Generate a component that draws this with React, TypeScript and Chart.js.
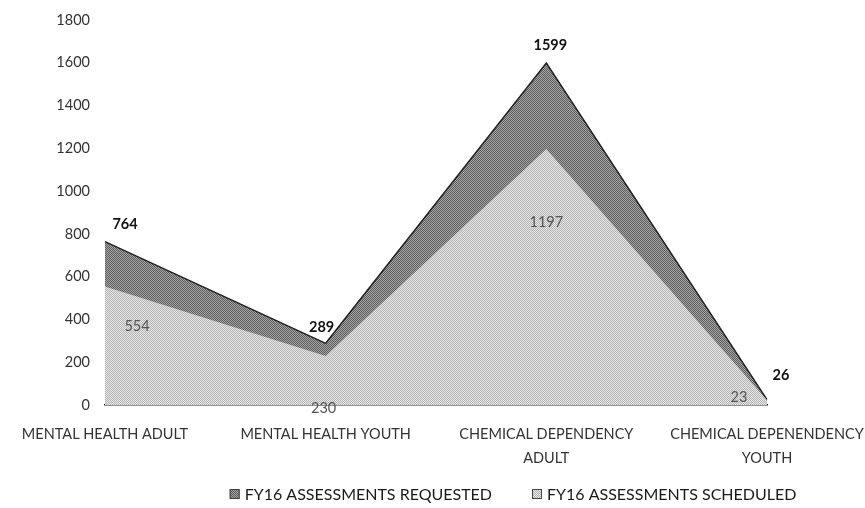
import React, { useEffect, useRef } from "react";
import { Chart, registerables } from "chart.js";

Chart.register(...registerables);

const categories: string[][] = [
  ["MENTAL HEALTH ADULT"],
  ["MENTAL HEALTH YOUTH"],
  ["CHEMICAL DEPENDENCY", "ADULT"],
  ["CHEMICAL DEPENENDENCY", "YOUTH"],
];
const requested = [764, 289, 1599, 26];
const scheduled = [554, 230, 1197, 23];
const seriesNames = ["FY16 ASSESSMENTS REQUESTED", "FY16 ASSESSMENTS SCHEDULED"];
const yMax = 1800;
const yStep = 200;

const FONT = "Lato, 'Open Sans', sans-serif";

function makePattern(a: string, b: string): CanvasPattern | string {
  const c = document.createElement("canvas");
  c.width = 4;
  c.height = 4;
  const g = c.getContext("2d");
  if (!g) return a;
  for (let y = 0; y < 4; y++) {
    for (let x = 0; x < 4; x++) {
      g.fillStyle = (x + y) % 2 === 0 ? a : b;
      g.fillRect(x, y, 1, 1);
    }
  }
  const p = g.createPattern(c, "repeat");
  return p || a;
}

const labelOffsets = [
  [[20, -17], [-4, -16], [4, -18], [14, -24]],
  [[32, 40], [-2, 52], [0, 73], [-28, -3]],
];

const dataLabelPlugin = {
  id: "dataLabels",
  afterDatasetsDraw(chart: any) {
    const ctx = chart.ctx;
    ctx.save();
    ctx.textAlign = "center";
    ctx.textBaseline = "middle";
    chart.data.datasets.forEach((ds: any, di: number) => {
      const meta = chart.getDatasetMeta(di);
      meta.data.forEach((pt: any, i: number) => {
        const off = labelOffsets[di][i];
        ctx.font = di === 0 ? `bold 14.5px ${FONT}` : `14.5px ${FONT}`;
        ctx.fillStyle = di === 0 ? "#111" : "#555";
        ctx.fillText(String(ds.data[i]), pt.x + off[0], pt.y + off[1]);
      });
    });
    ctx.restore();
  },
};

const legendPlugin = {
  id: "customLegend",
  afterDraw(chart: any) {
    const ctx = chart.ctx;
    const ds = chart.data.datasets;
    ctx.save();
    ctx.font = `16px ${FONT}`;
    ctx.textBaseline = "middle";
    ctx.textAlign = "left";
    const box = 10;
    const gap = 5;
    const spacing = 40;
    const widths = ds.map((d: any) => box + gap + ctx.measureText(d.label).width);
    const total = widths.reduce((a: number, b: number) => a + b, 0) + spacing * (ds.length - 1);
    const center = 513;
    const y = 494;
    let x = center - total / 2;
    ds.forEach((d: any, i: number) => {
      ctx.fillStyle = d.backgroundColor;
      ctx.fillRect(x, y - box / 2, box, box);
      ctx.strokeStyle = "#444";
      ctx.lineWidth = 1;
      ctx.strokeRect(x + 0.5, y - box / 2 + 0.5, box - 1, box - 1);
      ctx.fillStyle = "#1a1a1a";
      ctx.fillText(d.label, x + box + gap, y + 1);
      x += widths[i] + spacing;
    });
    ctx.restore();
  },
};

export default function App() {
  const ref = useRef<HTMLCanvasElement>(null);
  useEffect(() => {
    if (!ref.current) return;
    const reqFill = makePattern("#5e5e5e", "#a4a4a4");
    const schFill = makePattern("#b4b4b4", "#e6e6e6");
    const chart = new Chart(ref.current, {
      type: "line",
      data: {
        labels: categories,
        datasets: [
          {
            label: seriesNames[0],
            data: requested,
            fill: "origin",
            backgroundColor: reqFill as any,
            borderColor: "#222",
            borderWidth: 1.5,
            pointRadius: 0,
            tension: 0,
            order: 2,
          },
          {
            label: seriesNames[1],
            data: scheduled,
            fill: "origin",
            backgroundColor: schFill as any,
            borderColor: "rgba(0,0,0,0)",
            borderWidth: 0,
            pointRadius: 0,
            tension: 0,
            order: 1,
          },
        ],
      },
      options: {
        animation: false,
        responsive: false,
        maintainAspectRatio: false,
        layout: { padding: { top: 20, right: 98, bottom: 29, left: 0 } },
        plugins: {
          legend: { display: false },
          tooltip: { enabled: false },
        },
        scales: {
          x: {
            offset: false,
            grid: { display: false },
            border: { display: true, color: "#222", width: 1.5 },
            ticks: {
              color: "#333",
              font: { family: FONT, size: 14.5, lineHeight: 1.65 },
              maxRotation: 0,
              autoSkip: false,
              padding: 9,
            },
            afterFit(s: any) {
              s.paddingRight = 0;
              s.paddingLeft = 0;
            },
          },
          y: {
            min: 0,
            max: yMax,
            grid: { display: false },
            border: { display: false },
            ticks: {
              stepSize: yStep,
              color: "#333",
              font: { family: FONT, size: 14.5 },
              padding: 7,
              callback: (v: any) => String(v),
            },
            afterFit(s: any) {
              s.width = 105;
            },
          },
        },
      },
      plugins: [dataLabelPlugin, legendPlugin],
    });
    return () => chart.destroy();
  }, []);
  return (
    <div style={{ position: "fixed", left: 0, top: 0, width: 865, height: 508, background: "#fff" }}>
      <canvas ref={ref} width={865} height={508} style={{ width: 865, height: 508 }} />
    </div>
  );
}
